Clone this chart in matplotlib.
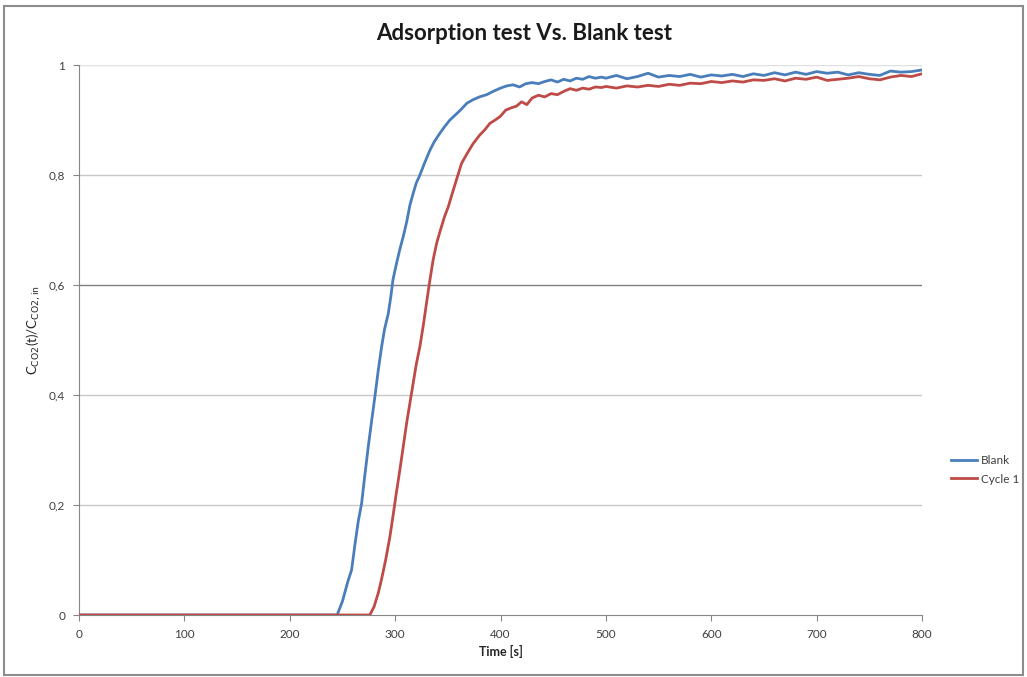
import matplotlib
matplotlib.use("Agg")
import matplotlib.pyplot as plt
from matplotlib.patches import Rectangle
from matplotlib.ticker import FuncFormatter

plt.rcParams['font.family'] = ['Lato', 'DejaVu Sans']

title = "Adsorption test Vs. Blank test"
xlabel = "Time [s]"
ylabel = r"C$_{\mathrm{CO2}}$(t)/C$_{\mathrm{CO2,in}}$"
series_names = ["Blank", "Cycle 1"]

blank_t = [0, 245, 250, 255, 258.7, 262, 265, 268.2, 271, 274.5, 277.5, 280.8, 284, 287.2, 290,
           293.5, 296, 298, 301.4, 304.5, 307.7, 311, 314, 317.2, 320, 323.5, 328, 333, 337,
           342.5, 347, 352, 357, 362, 367.8, 373, 380, 386.8, 393,
           400, 406, 412, 418, 424, 430, 436, 442, 448, 454, 460, 466, 472, 478, 484, 490, 496,
           500, 510, 520, 530, 540, 550, 560, 570, 580, 590, 600, 610, 620, 630, 640, 650, 660,
           670, 680, 690, 700, 710, 720, 730, 740, 750, 760, 770, 780, 790, 800]
blank_y = [0, 0, 0.025, 0.06, 0.082, 0.13, 0.17, 0.203, 0.25, 0.306, 0.35, 0.397, 0.445, 0.488, 0.52,
           0.548, 0.58, 0.61, 0.64, 0.665, 0.688, 0.715, 0.745, 0.767, 0.785, 0.80, 0.822, 0.845, 0.86,
           0.876, 0.888, 0.90, 0.909, 0.918, 0.93, 0.936, 0.942, 0.946, 0.952,
           0.958, 0.962, 0.964, 0.960, 0.966, 0.968, 0.966, 0.970, 0.973, 0.969, 0.974, 0.971, 0.976,
           0.974, 0.979, 0.976, 0.978,
           0.976, 0.981, 0.975, 0.979, 0.985, 0.978, 0.981, 0.979, 0.983, 0.978, 0.982, 0.980, 0.983,
           0.979, 0.984, 0.981, 0.986, 0.982, 0.987, 0.983, 0.988, 0.985, 0.987, 0.982, 0.986, 0.983,
           0.981, 0.989, 0.987, 0.988, 0.991]

cycle_t = [0, 276, 280, 284, 287, 291, 295, 298, 301, 304.5, 308, 311, 314, 317, 320, 323.5, 327,
           330, 333, 336, 339.4, 343, 347, 350.4, 354, 358, 363, 368, 374, 380, 385, 390, 395,
           400, 405, 410, 415, 420, 425, 430, 436, 442, 448, 454, 460, 466, 472, 478, 484, 490, 496,
           500, 510, 520, 530, 540, 550, 560, 570, 580, 590, 600, 610, 620, 630, 640, 650, 660,
           670, 680, 690, 700, 710, 720, 730, 740, 750, 760, 770, 780, 790, 800]
cycle_y = [0, 0, 0.015, 0.04, 0.064, 0.10, 0.142, 0.18, 0.22, 0.264, 0.31, 0.35, 0.385, 0.42, 0.455,
           0.488, 0.53, 0.57, 0.609, 0.645, 0.676, 0.70, 0.725, 0.742, 0.765, 0.79, 0.821, 0.838,
           0.857, 0.872, 0.882, 0.894, 0.900,
           0.907, 0.918, 0.922, 0.925, 0.933, 0.928, 0.940, 0.945, 0.942, 0.948, 0.946, 0.952, 0.957,
           0.954, 0.958, 0.956, 0.960, 0.959,
           0.961, 0.958, 0.962, 0.960, 0.963, 0.961, 0.965, 0.963, 0.967, 0.966, 0.970, 0.968, 0.971,
           0.969, 0.973, 0.972, 0.975, 0.971, 0.976, 0.974, 0.978, 0.972, 0.974, 0.976, 0.979, 0.975,
           0.973, 0.978, 0.981, 0.979, 0.984]

xticks = [0, 100, 200, 300, 400, 500, 600, 700, 800]
yticks = [0, 0.2, 0.4, 0.6, 0.8, 1.0]

fig = plt.figure(figsize=(10.27, 6.77), dpi=100)
fig.patch.set_facecolor('white')
ax = fig.add_axes([79/1027, 1-615/677, (922-79)/1027, (615-65)/677])

for yv in yticks[1:]:
    col = '#7f7f7f' if abs(yv - 0.6) < 1e-9 else ('#e0e0e0' if yv == 1.0 else '#c8c8c8')
    ax.axhline(yv, color=col, lw=1.0, zorder=1)

ax.plot(blank_t, blank_y, color='#4a7ebb', lw=2.0, label=series_names[0], zorder=3)
ax.plot(cycle_t, cycle_y, color='#be4b48', lw=2.0, label=series_names[1], zorder=3)

ax.set_xlim(0, 800)
ax.set_ylim(0, 1)
ax.set_xticks(xticks)
ax.set_yticks(yticks)
ax.yaxis.set_major_formatter(FuncFormatter(lambda v, p: ('%g' % round(v, 1)).replace('.', ',')))
ax.tick_params(direction='out', length=4, color='#868686', labelsize=8.5, labelcolor='#404040', pad=6)
for s in ['top', 'right']:
    ax.spines[s].set_visible(False)
for s in ['left', 'bottom']:
    ax.spines[s].set_color('#868686')

ax.set_xlabel(xlabel, fontsize=9, fontweight='bold', color='#262626', labelpad=4)
ax.set_ylabel(ylabel, fontsize=9.5, color='#262626')
ax.yaxis.set_label_coords((43-79)/843, (615-330)/550)
fig.text(0.51, 1-33/677, title, ha='center', va='center', fontsize=16, fontweight='bold', color='#1a1a1a')

leg = ax.legend(loc='center left', bbox_to_anchor=(940/1027, 1-470/677), bbox_transform=fig.transFigure,
                frameon=False, fontsize=8.5, handlelength=2.2, handletextpad=0.4, labelspacing=0.6)
for t in leg.get_texts():
    t.set_color('#404040')

fig.patches.append(Rectangle((4/1027, 2/677), 1019/1027, 669/677, transform=fig.transFigure,
                             fill=False, edgecolor='#8c8c8c', lw=1.5))

fig.savefig('out.png', dpi=100)
